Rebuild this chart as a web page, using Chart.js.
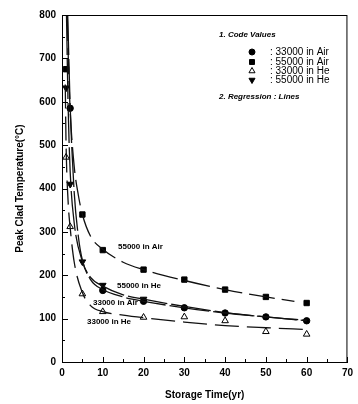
<!DOCTYPE html>
<html>
<head>
<meta charset="utf-8">
<script src="https://cdn.jsdelivr.net/npm/chart.js@4.4.1/dist/chart.umd.min.js"></script>
<style>
  html, body { margin: 0; padding: 0; background: #fff; }
  #wrap { width: 358px; height: 404px; }
</style>
</head>
<body>
<div id="wrap"><canvas id="chartTemp"></canvas></div>
<script>
// code values (markers)
var air33T = [2, 10, 20, 30, 40, 50, 60];
var air33V = [585, 165, 140, 125, 113, 104, 95];
var air55T = [1, 5, 10, 20, 30, 40, 50, 60];
var air55V = [675, 340, 258, 213, 190, 167, 150, 136];
var he33T = [1, 2, 5, 10, 20, 30, 40, 50, 60];
var he33V = [472, 312, 157, 116, 103, 104, 95, 70, 64];
var he55T = [1, 2, 5, 10, 20];
var he55V = [632, 410, 231, 177, 145];

// regression lines
var fitAir55T = [1.3, 1.6, 2, 3, 4, 5, 7, 10, 15, 20, 30, 40, 50, 57];
var fitAir55V = [800, 680, 580, 450, 385, 340, 290, 260, 230, 213, 188, 167, 150, 140];
var fitAir33T = [1.4, 2, 3, 4, 5, 7, 10, 15, 20, 30, 40, 50, 60];
var fitAir33V = [800, 590, 390, 290, 235, 190, 167, 150, 140, 125, 113, 104, 95];
var fitHe55T = [1.1, 1.5, 2, 3, 5, 7, 10, 15, 20, 30, 40, 50, 60];
var fitHe55V = [800, 590, 440, 320, 232, 195, 175, 155, 145, 128, 114, 104, 96];
var fitHe33T = [0.8, 1, 1.5, 2, 3, 5, 7, 10, 15, 20, 30, 40, 50, 60];
var fitHe33V = [640, 500, 370, 310, 230, 160, 130, 116, 108, 102, 92, 84, 79, 75];

var xTicks = [0, 10, 20, 30, 40, 50, 60, 70];
var yTicks = [0, 100, 200, 300, 400, 500, 600, 700, 800];

var curveLabels = ["55000 in Air", "55000 in He", "33000 in Air", "33000 in He"];
var legendNames = [": 33000 in Air", ": 55000 in Air", ": 33000 in He", ": 55000 in He"];

function pts(t, v) {
    var out = [];
    for (var i = 0; i < t.length; i++) out.push({ x: t[i], y: v[i] });
    return out;
}

function marks(t, v, style, rot, fill, r) {
    return {
        data: pts(t, v), showLine: false, pointStyle: style, rotation: rot,
        pointRadius: r, pointBackgroundColor: fill, pointBorderColor: '#000',
        pointBorderWidth: 1, borderColor: '#000'
    };
}

function fit(t, v, dash) {
    return {
        data: pts(t, v), showLine: true, pointRadius: 0, borderColor: '#111',
        borderWidth: 1.3, borderDash: dash, tension: 0.4, cubicInterpolationMode: 'monotone'
    };
}

var boxPlugin = {
    id: 'boxPlugin',
    afterDraw: function (chart) {
        var c = chart.ctx, a = chart.chartArea;
        var xs = chart.scales.x, ys = chart.scales.y;
        c.save();
        c.strokeStyle = '#000';
        c.lineWidth = 1;
        c.strokeRect(a.left + 0.5, a.top + 0.5, a.right - a.left - 1, a.bottom - a.top);
        // inward ticks
        c.beginPath();
        for (var v = 0; v <= 800; v += 50) {
            var py = Math.round(ys.getPixelForValue(v)) + 0.5;
            var len = v % 100 === 0 ? 6 : 3;
            c.moveTo(a.left, py); c.lineTo(a.left + len, py);
        }
        for (var t = 0; t <= 70; t += 5) {
            var px = Math.round(xs.getPixelForValue(t)) + 0.5;
            var l2 = t % 10 === 0 ? 5 : 3;
            c.moveTo(px, a.bottom); c.lineTo(px, a.bottom - l2);
        }
        c.stroke();

        // curve labels
        c.fillStyle = '#000';
        c.font = 'bold 8px Arial, "Liberation Sans"';
        c.textBaseline = 'middle';
        c.textAlign = 'left';
        c.fillText(curveLabels[0], 118, 247);
        c.fillText(curveLabels[1], 117, 286);
        c.fillText(curveLabels[2], 93, 303);
        c.fillText(curveLabels[3], 87, 322);

        // legend block
        c.font = 'italic bold 8px Arial, "Liberation Sans"';
        c.fillText('1. Code Values', 219, 35);
        c.fillText('2. Regression : Lines', 219, 97);
        c.font = '10px Arial, "Liberation Sans"';
        var rows = [52, 62, 71, 80];
        var styles = [['circle', 0, '#000', 3], ['rect', 0, '#000', 3.5], ['triangle', 0, '#fff', 3.5], ['triangle', 180, '#000', 3.5]];
        for (var i = 0; i < rows.length; i++) {
            c.fillStyle = styles[i][2];
            c.strokeStyle = '#000';
            Chart.helpers.drawPoint(c, { pointStyle: styles[i][0], rotation: styles[i][1], radius: styles[i][3], borderWidth: 1 }, 252, rows[i]);
            c.fillStyle = '#000';
            c.fillText(legendNames[i], 270, rows[i]);
        }
        c.restore();
    }
};

var tickFont = { family: 'Arial, "Liberation Sans"', size: 10, weight: 'bold' };

var ctx = document.getElementById('chartTemp').getContext('2d');
var chartTemp = new Chart(ctx, {
    type: 'scatter',
    data: {
        datasets: [
            fit(fitAir55T, fitAir55V, [26, 7]),
            fit(fitAir33T, fitAir33V, [40, 4]),
            fit(fitHe55T, fitHe55V, [40, 4]),
            fit(fitHe33T, fitHe33V, [24, 8]),
            marks(air33T, air33V, 'circle', 0, '#000', 3.2),
            marks(air55T, air55V, 'rect', 0, '#000', 3.8),
            marks(he33T, he33V, 'triangle', 0, '#fff', 3.8),
            marks(he55T, he55V, 'triangle', 180, '#000', 3.8)
        ]
    },
    options: {
        responsive: true,
        maintainAspectRatio: false,
        animation: false,
        layout: { padding: { top: 15, right: 5, left: 0, bottom: 0 } },
        plugins: { legend: { display: false }, tooltip: { enabled: false } },
        scales: {
            x: {
                type: 'linear', min: 0, max: 70,
                afterBuildTicks: function (s) { s.ticks = xTicks.map(function (v) { return { value: v }; }); },
                afterFit: function (s) { s.height = 42; },
                grid: { drawOnChartArea: false, drawTicks: false },
                border: { color: '#000', width: 1 },
                ticks: { color: '#000', font: tickFont, padding: 5, maxRotation: 0 },
                title: { display: true, text: 'Storage Time(yr)', color: '#000', font: tickFont, padding: { top: 0, bottom: 3 } }
            },
            y: {
                type: 'linear', min: 0, max: 800,
                afterBuildTicks: function (s) { s.ticks = yTicks.map(function (v) { return { value: v }; }); },
                afterFit: function (s) { s.width = 62; },
                grid: { drawOnChartArea: false, drawTicks: false },
                border: { color: '#000', width: 1 },
                ticks: { color: '#000', font: tickFont, padding: 6 },
                title: { display: true, text: 'Peak Clad Temperature(°C)', color: '#000', font: tickFont, padding: { top: 14, bottom: 0 } }
            }
        }
    },
    plugins: [boxPlugin]
});
</script>
</body>
</html>
